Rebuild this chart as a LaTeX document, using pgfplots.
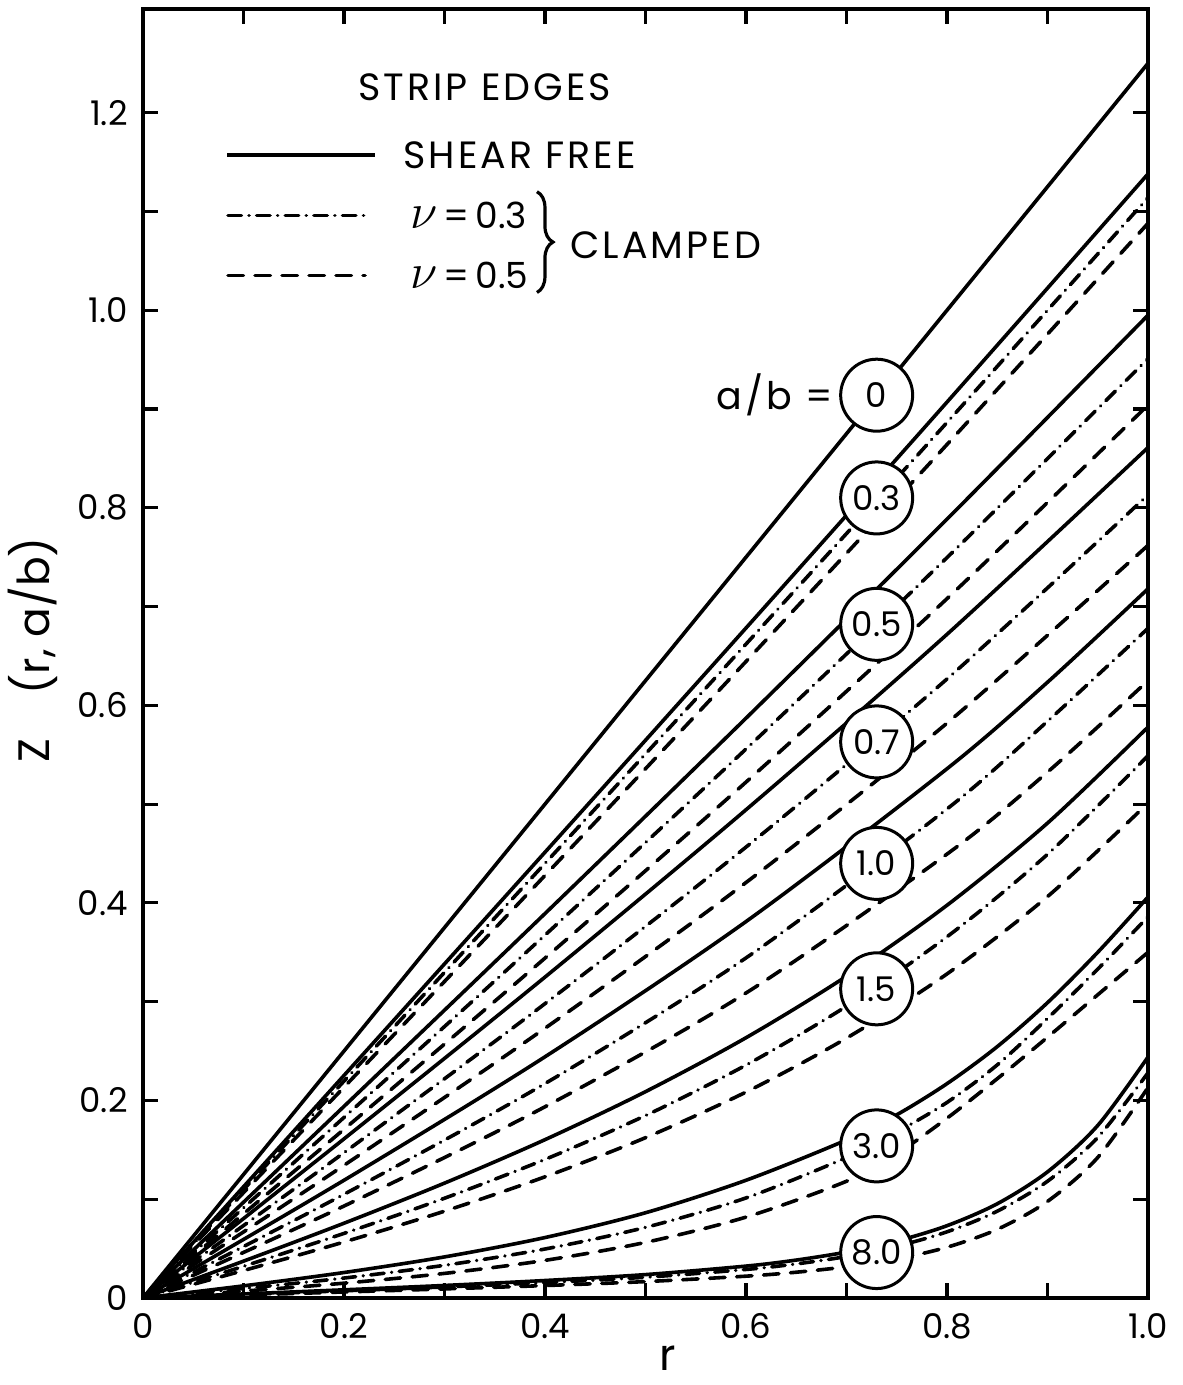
\documentclass[border=0pt]{standalone}
\usepackage{pgfplots}
\pgfplotsset{compat=1.18}
\usepackage{fontspec}
\setmainfont{Poppins}
\newfontfamily\legfam[LetterSpace=8]{Poppins}
\usetikzlibrary{decorations.pathreplacing}
\newcommand\legfont{\legfam\fontsize{19}{22}\selectfont}
\newcommand\nufont{\fontsize{18}{22}\selectfont}
\newcommand\circfont{\fontsize{17}{20}\selectfont}
\newcommand\bignu{{\fontsize{23}{26}\selectfont$\nu$}}
\pgfplotsset{
  sf/.style={black, line width=1.8pt, smooth, line cap=round, mark=none},
  cA/.style={sf, dash pattern=on 6.7pt off 3.8pt on 0.01pt off 3.8pt},
  cB/.style={sf, dash pattern=on 7.7pt off 5.8pt},
}
\begin{document}
\begin{tikzpicture}
\begin{axis}[
  scale only axis, width=502.5pt, height=644.5pt,
  xmin=0, xmax=1, ymin=0, ymax=1.305,
  axis line style={line width=1.6pt},
  tick style={line width=1.6pt, black},
  major tick length=7.5pt, minor tick length=7.5pt,
  tick align=inside, tick pos=both,
  xticklabel pos=lower, yticklabel pos=left,
  xtick={0,0.2,0.4,0.6,0.8,1.0}, xticklabels={0,0.2,0.4,0.6,0.8,1.0},
  minor xtick={0.1,0.3,0.5,0.7,0.9},
  ytick={0,0.2,0.4,0.6,0.8,1.0,1.2}, yticklabels={0,0.2,0.4,0.6,0.8,1.0,1.2},
  minor ytick={0.1,0.3,0.5,0.7,0.9,1.1},
  /pgf/number format/assume math mode=true,
  ticklabel style={font=\fontsize{17}{20}\selectfont, inner sep=0pt},
  xticklabel style={anchor=north, yshift=-7.5pt},
  yticklabel style={anchor=east, xshift=-7.5pt},
]
% a/b = 0
\addplot[sf] coordinates {(0,0)(1,1.25)};
% a/b = 0.3
\addplot[sf] coordinates {(0,0)(0.2,0.2253)(0.4,0.4513)(0.6,0.6783)(0.8,0.9070)(1,1.138)};
\addplot[cA] coordinates {(0,0)(0.2,0.2196)(0.4,0.4400)(0.6,0.6620)(0.8,0.8864)(1,1.114)};
\addplot[cB] coordinates {(0,0)(0.2,0.2134)(0.4,0.4278)(0.6,0.6444)(0.8,0.8641)(1,1.088)};
% a/b = 0.5
\addplot[sf] coordinates {(0,0)(0.2,0.1940)(0.4,0.3892)(0.6,0.5870)(0.8,0.7885)(1,0.995)};
\addplot[cA] coordinates {(0,0)(0.2,0.1828)(0.4,0.3674)(0.6,0.5558)(0.8,0.7496)(1,0.951)};
\addplot[cB] coordinates {(0,0)(0.2,0.1708)(0.4,0.3441)(0.6,0.5223)(0.8,0.7080)(1,0.904)};
% a/b = 0.7
\addplot[sf] coordinates {(0,0)(0.2,0.1611)(0.4,0.3249)(0.6,0.4943)(0.8,0.6719)(1,0.861)};
\addplot[cA] coordinates {(0,0)(0.2,0.1471)(0.4,0.2980)(0.6,0.4565)(0.8,0.6267)(1,0.813)};
\addplot[cB] coordinates {(0,0)(0.2,0.1343)(0.4,0.2731)(0.6,0.4206)(0.8,0.5820)(1,0.762)};
% a/b = 1.0
\addplot[sf] coordinates {(0,0)(0.2,0.1192)(0.4,0.2442)(0.6,0.3811)(0.8,0.5358)(0.9,0.6234)(1,0.718)};
\addplot[cA] coordinates {(0,0)(0.2,0.1050)(0.4,0.2171)(0.6,0.3443)(0.8,0.4951)(0.9,0.5839)(1,0.678)};
\addplot[cB] coordinates {(0,0)(0.2,0.0931)(0.4,0.1936)(0.6,0.3088)(0.8,0.4494)(0.9,0.5324)(1,0.625)};
% a/b = 1.5
\addplot[sf] coordinates {(0,0)(0.1,0.0373)(0.2,0.0757)(0.3,0.1163)(0.4,0.1603)(0.5,0.2089)(0.6,0.2635)(0.7,0.3258)(0.8,0.3976)(0.9,0.4808)(1,0.578)};
\addplot[cA] coordinates {(0,0)(0.1,0.0321)(0.2,0.0654)(0.3,0.1010)(0.4,0.1403)(0.5,0.1847)(0.6,0.2358)(0.7,0.2954)(0.8,0.3657)(0.9,0.4492)(1,0.549)};
\addplot[cB] coordinates {(0,0)(0.1,0.0278)(0.2,0.0567)(0.3,0.0879)(0.4,0.1227)(0.5,0.1623)(0.6,0.2085)(0.7,0.2631)(0.8,0.3281)(0.9,0.4064)(1,0.501)};
% a/b = 3.0
\addplot[sf] coordinates {(0,0)(0.1,0.0123)(0.2,0.0258)(0.3,0.0416)(0.4,0.0612)(0.5,0.0863)(0.6,0.1192)(0.7,0.1600)(0.75,0.1855)(0.8,0.2170)(0.85,0.2545)(0.9,0.2990)(0.95,0.3500)(1,0.406)};
\addplot[cA] coordinates {(0,0)(0.1,0.0096)(0.2,0.0202)(0.3,0.0331)(0.4,0.0496)(0.5,0.0715)(0.6,0.1013)(0.7,0.1422)(0.75,0.168)(0.8,0.198)(0.85,0.236)(0.9,0.283)(0.95,0.333)(1,0.386)};
\addplot[cB] coordinates {(0,0)(0.1,0.0070)(0.2,0.0150)(0.3,0.0249)(0.4,0.0381)(0.5,0.0563)(0.6,0.0819)(0.7,0.1182)(0.75,0.146)(0.8,0.182)(0.85,0.222)(0.9,0.264)(0.95,0.307)(1,0.350)};
% a/b = 8.0
\addplot[sf] coordinates {(0,0)(0.1,0.0041)(0.2,0.0083)(0.3,0.0127)(0.4,0.0177)(0.5,0.0237)(0.6,0.0323)(0.65,0.0384)(0.7,0.0465)(0.75,0.0576)(0.8,0.0732)(0.85,0.0954)(0.9,0.1277)(0.95,0.1747)(1,0.244)};
\addplot[cA] coordinates {(0,0)(0.1,0.0036)(0.2,0.0073)(0.3,0.0112)(0.4,0.0156)(0.5,0.0210)(0.6,0.0289)(0.65,0.0345)(0.7,0.0420)(0.75,0.0524)(0.8,0.0670)(0.85,0.0879)(0.9,0.1182)(0.95,0.1626)(1,0.228)};
\addplot[cB] coordinates {(0,0)(0.1,0.0030)(0.2,0.0061)(0.3,0.0092)(0.4,0.0126)(0.5,0.0166)(0.6,0.0221)(0.65,0.0261)(0.7,0.0316)(0.75,0.0395)(0.8,0.0514)(0.85,0.0695)(0.9,0.0978)(0.95,0.1423)(1,0.213)};

% circle labels
\tikzset{lab/.style={circle, draw, fill=white, line width=1.5pt, minimum size=36pt, inner sep=0pt, font=\circfont}}
\node[lab] at (axis cs:0.730,0.914) {0};
\node[lab] at (axis cs:0.730,0.810) {0.3};
\node[lab] at (axis cs:0.730,0.682) {0.5};
\node[lab] at (axis cs:0.730,0.563) {0.7};
\node[lab] at (axis cs:0.730,0.440) {1.0};
\node[lab] at (axis cs:0.730,0.313) {1.5};
\node[lab] at (axis cs:0.730,0.154) {3.0};
\node[lab] at (axis cs:0.730,0.046) {8.0};
\node[anchor=east, font=\legfont, inner sep=0pt] at (axis cs:0.6866,0.914) {a/b =};

% legend
\node[font=\legfont] at (axis cs:0.340,1.226) {STRIP EDGES};
\draw[line width=1.8pt] (axis cs:0.0836,1.157) -- (axis cs:0.2308,1.157);
\draw[line width=1.8pt, line cap=round, dash pattern=on 6.7pt off 3.8pt on 0.01pt off 3.8pt] (axis cs:0.0846,1.096) -- (axis cs:0.2209,1.096);
\draw[line width=1.8pt, line cap=round, dash pattern=on 7.7pt off 5.8pt] (axis cs:0.0846,1.035) -- (axis cs:0.2209,1.035);
\node[anchor=west, font=\legfont, inner sep=0pt] at (axis cs:0.2587,1.157) {SHEAR FREE};
\node[anchor=west, font=\nufont, inner sep=0pt] at (axis cs:0.2657,1.096) {\bignu\,=\,0.3};
\node[anchor=west, font=\nufont, inner sep=0pt] at (axis cs:0.2657,1.035) {\bignu\,=\,0.5};
\draw[line width=1.6pt, decorate, decoration={brace, amplitude=8pt}] (axis cs:0.392,1.120) -- (axis cs:0.392,1.018);
\node[anchor=west, font=\legfont, inner sep=0pt] at (axis cs:0.425,1.066) {CLAMPED};

\coordinate (SW) at (rel axis cs:0,0);
\coordinate (NE) at (rel axis cs:1,1);
\coordinate (YL) at (rel axis cs:0,0.503);
\coordinate (XL) at (rel axis cs:0.522,0);
\end{axis}
\node[rotate=90, font=\fontsize{22}{26}\selectfont] at ([xshift=-55pt]YL) {Z\quad(r, a/b)};
\node[font=\fontsize{22}{26}\selectfont, inner sep=0pt] at ([yshift=-30pt]XL) {r};
\pgfresetboundingbox
\useasboundingbox ([xshift=-71.5pt,yshift=-43.5pt]SW) rectangle ([xshift=17pt,yshift=4.5pt]NE);
\end{tikzpicture}
\end{document}
